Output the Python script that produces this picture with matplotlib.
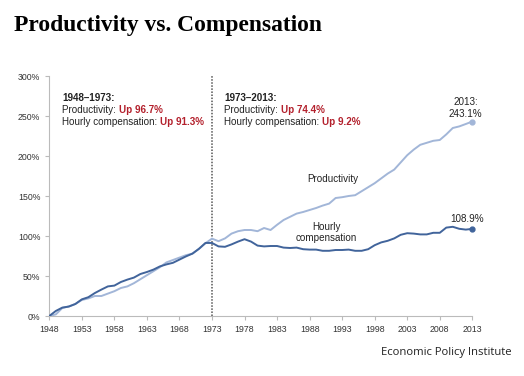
import matplotlib
matplotlib.use("Agg")
from matplotlib import pyplot as plt

years = list(range(1948, 2014))

productivity = [0, 2, 10, 12, 15, 20, 22, 25, 25, 28,
                31, 35, 37, 41, 46, 51, 56, 61, 67, 70,
                73, 76, 78, 84, 91, 96.7, 93.5, 97, 103, 106,
                107.5, 107.5, 106, 110, 107.5, 114, 120, 124, 128, 130,
                132.5, 135, 138, 140.5, 147.5, 148.5, 150, 151, 156, 161,
                166, 172, 178, 183, 192, 201, 208, 214, 216.5, 219,
                220, 227, 235, 237, 240, 243.1]

compensation = [0, 6.3, 10.5, 11.8, 15, 20.8, 23.5, 28.7, 33, 37,
                38, 42.5, 45.5, 48, 52.5, 55, 58, 62, 64.5, 66.5,
                70.5, 74.5, 78, 84, 91.3, 91.3, 87, 86.5, 89.5, 93,
                96, 93, 88, 87, 87.5, 87.5, 85.5, 85, 85.5, 83.5,
                83, 83, 81.5, 81.5, 82.5, 82.5, 83, 81.5, 81.5, 83.5,
                88.5, 92, 94, 97, 101.5, 103.5, 103, 102, 102, 104,
                104, 110.5, 111.5, 109, 108, 108.9]

xticks = list(range(1948, 2014, 5))
yticks = [0, 50, 100, 150, 200, 250, 300]

light = "#a2b6d8"
dark = "#41649b"
red = "#b3202c"
txt = "#222222"

plt.rcParams["font.family"] = ["Liberation Sans", "DejaVu Sans"]

fig = plt.figure(figsize=(5.24, 3.76), dpi=100)
fig.patch.set_facecolor("white")

ax = fig.add_axes([49.3 / 524, 60 / 376, 423 / 524, 240 / 376])
ax.plot(years, productivity, color=light, lw=1.4, zorder=3)
ax.plot(years, compensation, color=dark, lw=1.4, zorder=3)
ax.plot(years[-1], productivity[-1], "o", color=light, ms=3.5, zorder=4, clip_on=False)
ax.plot(years[-1], compensation[-1], "o", color=dark, ms=3.5, zorder=4, clip_on=False)
ax.axvline(1973, color="#555555", lw=1.1, ls=(0, (1, 1)), zorder=2)

ax.set_xlim(1948, 2013)
ax.set_ylim(0, 300)
ax.set_xticks(xticks)
ax.set_yticks(yticks)
ax.set_yticklabels([f"{v}%" for v in yticks])
ax.tick_params(labelsize=6.3, colors="#bbbbbb", labelcolor="#333333", length=3, width=0.8)
for s in ["top", "right"]:
    ax.spines[s].set_visible(False)
for s in ["left", "bottom"]:
    ax.spines[s].set_color("#bbbbbb")
    ax.spines[s].set_linewidth(0.8)

# period boxes
def period(x, y, head, prod, comp):
    fs = 7.1
    ax.text(x, y, head, fontsize=fs, weight="bold", color=txt, va="center")
    t1 = ax.text(x, y - 14.8, "Productivity: ", fontsize=fs, color=txt, va="center")
    ax.annotate(prod, xy=(1, 0), xycoords=t1, va="bottom", ha="left",
                fontsize=fs, weight="bold", color=red)
    t2 = ax.text(x, y - 29.8, "Hourly compensation: ", fontsize=fs, color=txt, va="center")
    ax.annotate(comp, xy=(1, 0), xycoords=t2, va="bottom", ha="left",
                fontsize=fs, weight="bold", color=red)

period(1949.95, 272.9, "1948–1973:", "Up 96.7%", "Up 91.3%")
period(1974.9, 272.9, "1973–2013:", "Up 74.4%", "Up 9.2%")

ax.text(2012.0, 260, "2013:\n243.1%", fontsize=7.1, color=txt, ha="center", va="center",
        linespacing=1.2)
ax.text(1991.6, 170.9, "Productivity", fontsize=7.1, color=txt, ha="center", va="center")
ax.text(1990.6, 104.3, "Hourly\ncompensation", fontsize=7.1, color=txt, ha="center",
        va="center", linespacing=1.2)
ax.text(2012.2, 121, "108.9%", fontsize=7.1, color=txt, ha="center", va="center")

fig.text(14 / 524, 1 - 25 / 376, "Productivity vs. Compensation", fontsize=16.9,
         weight="bold", family="Liberation Serif", color="black", va="center")
fig.text(512 / 524, 1 - 352 / 376, "Economic Policy Institute", fontsize=8.1,
         family="Open Sans", color=txt, ha="right", va="center")

fig.savefig("out.png", dpi=100)
